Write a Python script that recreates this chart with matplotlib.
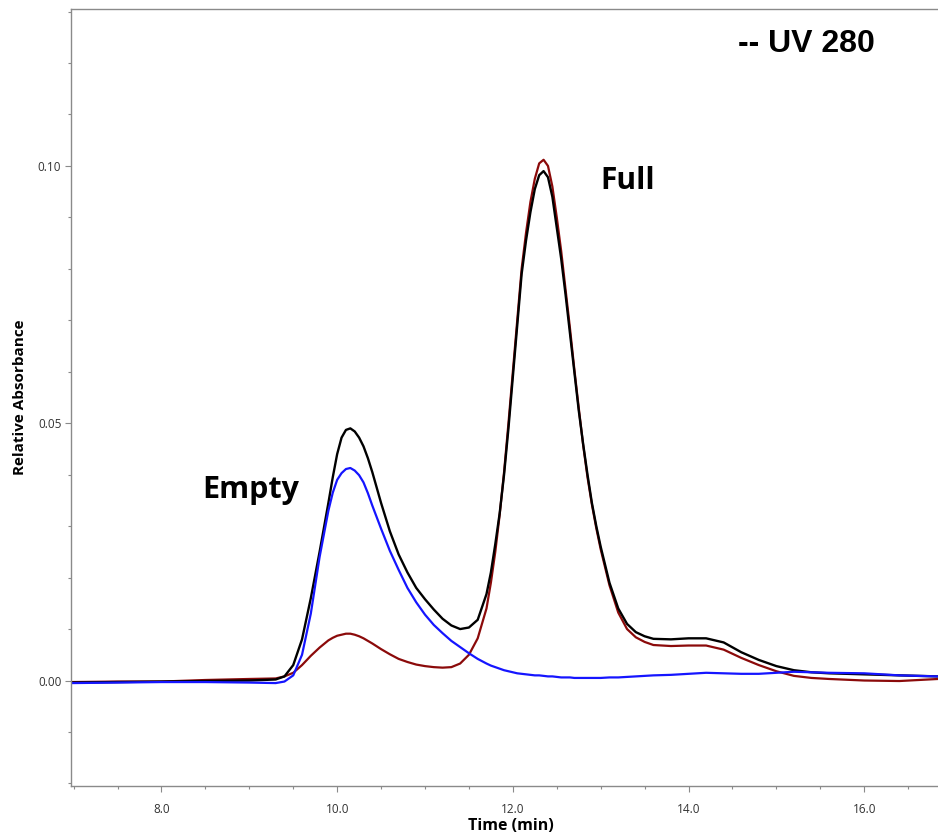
import matplotlib
matplotlib.use("Agg")
import matplotlib.pyplot as plt
from matplotlib.ticker import MultipleLocator, FormatStrFormatter

# ── chromatogram traces (time in min, absorbance) ──
time_min = [6.97, 7.5, 8.0, 8.5, 9.0, 9.3, 9.4, 9.5, 9.6, 9.7,
            9.8, 9.9, 9.95, 10.0, 10.05, 10.1, 10.15, 10.2, 10.25, 10.3,
            10.35, 10.4, 10.5, 10.6, 10.7, 10.8, 10.9, 11.0, 11.1, 11.2,
            11.3, 11.4, 11.5, 11.6, 11.7, 11.75, 11.8, 11.85, 11.9, 11.95,
            12.0, 12.05, 12.1, 12.15, 12.2, 12.25, 12.3, 12.35, 12.4, 12.45,
            12.5, 12.55, 12.6, 12.65, 12.7, 12.75, 12.8, 12.85, 12.9, 12.95,
            13.0, 13.1, 13.2, 13.3, 13.4, 13.5, 13.6, 13.8, 14.0, 14.2,
            14.4, 14.6, 14.8, 15.0, 15.2, 15.4, 15.6, 16.0, 16.4, 16.84]

total_abs = [-0.0004, -0.0003, -0.0002, -0.0001, 0.0000, 0.0002, 0.0008, 0.0030, 0.0080, 0.0160,
             0.0250, 0.0345, 0.0395, 0.0440, 0.0472, 0.0487, 0.0490, 0.0484, 0.0472, 0.0455,
             0.0432, 0.0405, 0.0345, 0.0290, 0.0245, 0.0210, 0.0180, 0.0158, 0.0138, 0.0120,
             0.0107, 0.0100, 0.0103, 0.0118, 0.0168, 0.0210, 0.0265, 0.0325, 0.0400, 0.0490,
             0.0590, 0.0690, 0.0790, 0.0855, 0.0910, 0.0955, 0.0982, 0.0990, 0.0978, 0.0940,
             0.0880, 0.0820, 0.0750, 0.0675, 0.0600, 0.0525, 0.0460, 0.0400, 0.0345, 0.0300,
             0.0260, 0.0190, 0.0140, 0.0110, 0.0094, 0.0086, 0.0081, 0.0080, 0.0082, 0.0082,
             0.0074, 0.0055, 0.0040, 0.0028, 0.0020, 0.0016, 0.0014, 0.0012, 0.0010, 0.0008]

empty_abs = [-0.0005, -0.0004, -0.0003, -0.0003, -0.0004, -0.0005, -0.0002, 0.0010, 0.0050, 0.0130,
             0.0240, 0.0330, 0.0365, 0.0390, 0.0403, 0.0411, 0.0413, 0.0408, 0.0399, 0.0385,
             0.0364, 0.0340, 0.0295, 0.0252, 0.0215, 0.0180, 0.0152, 0.0128, 0.0108, 0.0092,
             0.0077, 0.0065, 0.0053, 0.0042, 0.0033, 0.0029, 0.0026, 0.0023, 0.0020, 0.0018,
             0.0016, 0.0014, 0.0013, 0.0012, 0.0011, 0.0010, 0.0010, 0.0009, 0.0008, 0.0008,
             0.0007, 0.0006, 0.0006, 0.0006, 0.0005, 0.0005, 0.0005, 0.0005, 0.0005, 0.0005,
             0.0005, 0.0006, 0.0006, 0.0007, 0.0008, 0.0009, 0.0010, 0.0011, 0.0013, 0.0015,
             0.0014, 0.0013, 0.0013, 0.0015, 0.0017, 0.0016, 0.0015, 0.0014, 0.0010, 0.0008]

full_abs = [-0.0003, -0.0002, -0.0002, 0.0001, 0.0003, 0.0004, 0.0008, 0.0015, 0.0030, 0.0048,
            0.0064, 0.0078, 0.0083, 0.0087, 0.0089, 0.0091, 0.0091, 0.0089, 0.0086, 0.0082,
            0.0077, 0.0072, 0.0061, 0.0051, 0.0042, 0.0036, 0.0031, 0.0028, 0.0026, 0.0025,
            0.0026, 0.0033, 0.0050, 0.0082, 0.0140, 0.0190, 0.0250, 0.0322, 0.0405, 0.0500,
            0.0600, 0.0700, 0.0800, 0.0870, 0.0930, 0.0975, 0.1005, 0.1012, 0.1000, 0.0960,
            0.0900, 0.0835, 0.0760, 0.0685, 0.0605, 0.0530, 0.0458, 0.0395, 0.0342, 0.0296,
            0.0255, 0.0185, 0.0132, 0.0100, 0.0084, 0.0075, 0.0069, 0.0067, 0.0068, 0.0068,
            0.0060, 0.0044, 0.0030, 0.0018, 0.0009, 0.0005, 0.0003, 0.0000, -0.0001, 0.0003]

W, H = 938, 834
fig = plt.figure(figsize=(W / 100, H / 100), dpi=100)
ax = fig.add_axes([71 / W, 48 / H, (W - 71) / W, (786 - 9) / H])

line_kw = dict(solid_joinstyle="round", solid_capstyle="round")
ax.plot(time_min, full_abs, color="#8b0a0a", lw=1.6, **line_kw)
ax.plot(time_min, total_abs, color="black", lw=1.7, **line_kw)
ax.plot(time_min, empty_abs, color="#1515ff", lw=1.6, **line_kw)

ax.set_xlim(6.97, 16.84)
ax.set_ylim(-0.0205, 0.1305)

ax.xaxis.set_major_locator(MultipleLocator(2.0))
ax.xaxis.set_minor_locator(MultipleLocator(0.5))
ax.yaxis.set_major_locator(MultipleLocator(0.05))
ax.yaxis.set_minor_locator(MultipleLocator(0.01))
ax.xaxis.set_major_formatter(FormatStrFormatter("%.1f"))
ax.yaxis.set_major_formatter(FormatStrFormatter("%.2f"))

for sp in ax.spines.values():
    sp.set_color("#8a8a8a")
    sp.set_linewidth(1.0)
ax.spines["right"].set_visible(False)

ax.tick_params(which="major", length=4, width=0.8, color="#8a8a8a",
               labelsize=8.5, labelcolor="#333333")
ax.tick_params(which="minor", length=2.5, width=0.8, color="#8a8a8a")
ax.tick_params(axis="x", which="major", pad=8)
ax.tick_params(axis="y", which="major", pad=3)
for lab in ax.get_xticklabels() + ax.get_yticklabels():
    lab.set_family("Open Sans")

fig.text(511 / W, 1 - 830 / H, "Time (min)", ha="center", va="baseline",
         fontsize=11.5, fontweight="bold", family="Open Sans")
fig.text(20 / W, 1 - 397 / H, "Relative Absorbance", ha="center", va="center",
         rotation=90, fontsize=11, fontweight="bold", family="Open Sans")

fig.text(738 / W, 1 - 52 / H, "-- UV 280", ha="left", va="baseline",
         fontsize=23, fontweight="bold", family="Liberation Sans")
fig.text(600 / W, 1 - 189 / H, "Full", ha="left", va="baseline",
         fontsize=21.5, fontweight="bold", family="Open Sans")
fig.text(202 / W, 1 - 498 / H, "Empty", ha="left", va="baseline",
         fontsize=22, fontweight="bold", family="Open Sans")

fig.savefig("out.png", dpi=100)
